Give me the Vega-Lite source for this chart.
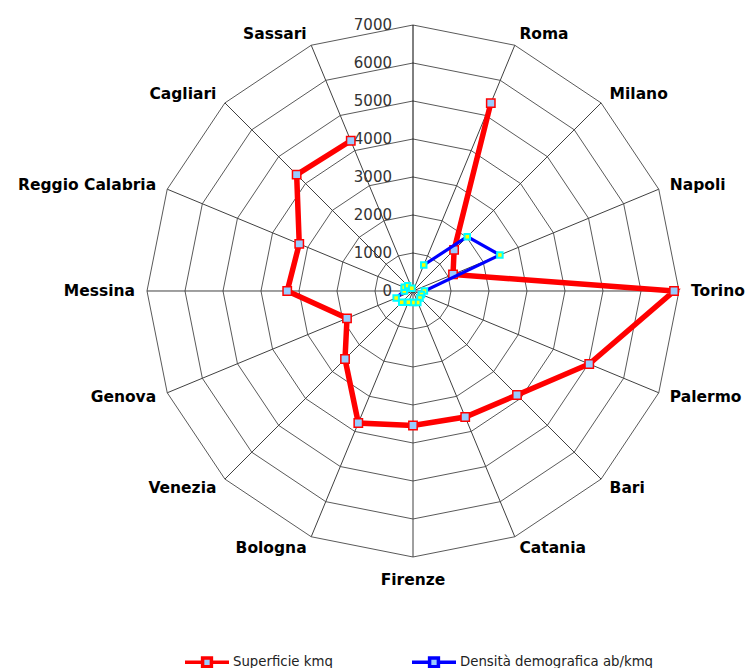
{
  "$schema": "https://vega.github.io/schema/vega-lite/v6.json",
  "width": 750,
  "height": 668,
  "padding": 0,
  "autosize": {"type": "none"},
  "background": "white",
  "config": {"view": {"stroke": null}, "font": "DejaVu Sans"},
  "datasets": {
    "cities": [
      {"city": "", "superficie": null, "densita": null},
      {"city": "Roma", "superficie": 5350, "densita": 740},
      {"city": "Milano", "superficie": 1530, "densita": 2020},
      {"city": "Napoli", "superficie": 1140, "densita": 2475},
      {"city": "Torino", "superficie": 6870, "densita": 300},
      {"city": "Palermo", "superficie": 5020, "densita": 240},
      {"city": "Bari", "superficie": 3870, "densita": 260},
      {"city": "Catania", "superficie": 3590, "densita": 330},
      {"city": "Firenze", "superficie": 3540, "densita": 300},
      {"city": "Bologna", "superficie": 3760, "densita": 320},
      {"city": "Venezia", "superficie": 2530, "densita": 420},
      {"city": "Genova", "superficie": 1880, "densita": 480},
      {"city": "Messina", "superficie": 3310, "densita": 230},
      {"city": "Reggio Calabria", "superficie": 3240, "densita": 250},
      {"city": "Cagliari", "superficie": 4330, "densita": 200},
      {"city": "Sassari", "superficie": 4280, "densita": 80}
    ],
    "grid": [{"key": 1, "levels": [1000, 2000, 3000, 4000, 5000, 6000, 7000]}],
    "ticks": [
      {"level": 0}, {"level": 1000}, {"level": 2000}, {"level": 3000},
      {"level": 4000}, {"level": 5000}, {"level": 6000}, {"level": 7000}
    ]
  },
  "layer": [
    {
      "data": {"name": "cities"},
      "transform": [
        {"window": [{"op": "row_number", "as": "rn"}]},
        {"calculate": "(datum.rn - 1) * PI / 8", "as": "ang"},
        {"calculate": "1", "as": "key"},
        {"lookup": "key", "from": {"data": {"name": "grid"}, "key": "key", "fields": ["levels"]}},
        {"flatten": ["levels"], "as": ["level"]},
        {"calculate": "datum.level * sin(datum.ang)", "as": "gx"},
        {"calculate": "datum.level * cos(datum.ang)", "as": "gy"},
        {"calculate": "datum.level * sin(datum.ang + PI / 8)", "as": "gx2"},
        {"calculate": "datum.level * cos(datum.ang + PI / 8)", "as": "gy2"}
      ],
      "mark": {"type": "rule", "stroke": "#5a5a5a", "strokeWidth": 1},
      "encoding": {
        "x": {"field": "gx", "type": "quantitative", "scale": {"domain": [-10868.4, 8868.4], "nice": false, "zero": false}, "axis": null},
        "y": {"field": "gy", "type": "quantitative", "scale": {"domain": [-9921.1, 7657.9], "nice": false, "zero": false}, "axis": null},
        "x2": {"field": "gx2"},
        "y2": {"field": "gy2"}
      }
    },
    {
      "data": {"name": "cities"},
      "transform": [
        {"window": [{"op": "row_number", "as": "rn"}]},
        {"calculate": "(datum.rn - 1) * PI / 8", "as": "ang"},
        {"calculate": "0", "as": "zero"},
        {"calculate": "7000 * sin(datum.ang)", "as": "sx"},
        {"calculate": "7000 * cos(datum.ang)", "as": "sy"}
      ],
      "mark": {"type": "rule", "strokeWidth": 1},
      "encoding": {
        "x": {"field": "zero", "type": "quantitative", "scale": {"domain": [-10868.4, 8868.4], "nice": false, "zero": false}, "axis": null},
        "y": {"field": "zero", "type": "quantitative", "scale": {"domain": [-9921.1, 7657.9], "nice": false, "zero": false}, "axis": null},
        "x2": {"field": "sx"},
        "y2": {"field": "sy"},
        "stroke": {"condition": {"test": "datum.rn == 1", "value": "#000000"}, "value": "#404040"}
      }
    },
    {
      "data": {"name": "ticks"},
      "transform": [{"calculate": "0", "as": "zero"}],
      "mark": {"type": "text", "align": "right", "baseline": "middle", "dx": -21, "fontSize": 15, "color": "#333333", "font": "DejaVu Sans"},
      "encoding": {
        "x": {"field": "zero", "type": "quantitative", "scale": {"domain": [-10868.4, 8868.4], "nice": false, "zero": false}, "axis": null},
        "y": {"field": "level", "type": "quantitative", "scale": {"domain": [-9921.1, 7657.9], "nice": false, "zero": false}, "axis": null},
        "text": {"field": "level", "type": "quantitative", "format": "d"}
      }
    },
    {
      "data": {"name": "cities"},
      "transform": [
        {"window": [{"op": "row_number", "as": "rn"}]},
        {"calculate": "(datum.rn - 1) * PI / 8", "as": "ang"},
        {"calculate": "7316 * sin(datum.ang)", "as": "lx"},
        {"calculate": "7316 * cos(datum.ang)", "as": "ly"},
        {"filter": "datum.rn > 1 && datum.rn < 9"}
      ],
      "mark": {"type": "text", "align": "left", "baseline": "middle", "fontSize": 15.5, "fontWeight": "bold", "color": "#000000", "font": "DejaVu Sans"},
      "encoding": {
        "x": {"field": "lx", "type": "quantitative", "scale": {"domain": [-10868.4, 8868.4], "nice": false, "zero": false}, "axis": null},
        "y": {"field": "ly", "type": "quantitative", "scale": {"domain": [-9921.1, 7657.9], "nice": false, "zero": false}, "axis": null},
        "text": {"field": "city", "type": "nominal"}
      }
    },
    {
      "data": {"name": "cities"},
      "transform": [
        {"window": [{"op": "row_number", "as": "rn"}]},
        {"calculate": "(datum.rn - 1) * PI / 8", "as": "ang"},
        {"calculate": "7316 * sin(datum.ang)", "as": "lx"},
        {"calculate": "7316 * cos(datum.ang)", "as": "ly"},
        {"filter": "datum.rn == 9"}
      ],
      "mark": {"type": "text", "align": "center", "baseline": "top", "dy": 4, "fontSize": 15.5, "fontWeight": "bold", "color": "#000000", "font": "DejaVu Sans"},
      "encoding": {
        "x": {"field": "lx", "type": "quantitative", "scale": {"domain": [-10868.4, 8868.4], "nice": false, "zero": false}, "axis": null},
        "y": {"field": "ly", "type": "quantitative", "scale": {"domain": [-9921.1, 7657.9], "nice": false, "zero": false}, "axis": null},
        "text": {"field": "city", "type": "nominal"}
      }
    },
    {
      "data": {"name": "cities"},
      "transform": [
        {"window": [{"op": "row_number", "as": "rn"}]},
        {"calculate": "(datum.rn - 1) * PI / 8", "as": "ang"},
        {"calculate": "7316 * sin(datum.ang)", "as": "lx"},
        {"calculate": "7316 * cos(datum.ang)", "as": "ly"},
        {"filter": "datum.rn > 9"}
      ],
      "mark": {"type": "text", "align": "right", "baseline": "middle", "fontSize": 15.5, "fontWeight": "bold", "color": "#000000", "font": "DejaVu Sans"},
      "encoding": {
        "x": {"field": "lx", "type": "quantitative", "scale": {"domain": [-10868.4, 8868.4], "nice": false, "zero": false}, "axis": null},
        "y": {"field": "ly", "type": "quantitative", "scale": {"domain": [-9921.1, 7657.9], "nice": false, "zero": false}, "axis": null},
        "text": {"field": "city", "type": "nominal"}
      }
    },
    {
      "data": {"name": "cities"},
      "transform": [
        {"window": [{"op": "row_number", "as": "rn"}]},
        {"calculate": "(datum.rn - 1) * PI / 8", "as": "ang"},
        {"fold": ["superficie", "densita"], "as": ["series", "value"]},
        {"filter": "isValid(datum.value)"},
        {"calculate": "datum.value * sin(datum.ang)", "as": "px"},
        {"calculate": "datum.value * cos(datum.ang)", "as": "py"},
        {"filter": "datum.series == 'superficie'"}
      ],
      "mark": {"type": "line", "strokeWidth": 5.5, "strokeJoin": "miter"},
      "encoding": {
        "x": {"field": "px", "type": "quantitative", "scale": {"domain": [-10868.4, 8868.4], "nice": false, "zero": false}, "axis": null},
        "y": {"field": "py", "type": "quantitative", "scale": {"domain": [-9921.1, 7657.9], "nice": false, "zero": false}, "axis": null},
        "order": {"field": "rn", "type": "quantitative"},
        "color": {
          "field": "series", "type": "nominal",
          "scale": {"domain": ["superficie", "densita"], "range": ["#FF0000", "#0000FF"]},
          "legend": {
            "orient": "none", "legendX": 183, "legendY": 638, "direction": "horizontal", "title": null,
            "symbolType": "M-1,0H-0.2M0.2,0H1M-0.2,-0.2H0.2V0.2H-0.2Z",
            "symbolSize": 1936, "symbolStrokeWidth": 3.5, "symbolFillColor": "#99CCFF",
            "labelFontSize": 13.3, "labelFont": "DejaVu Sans", "labelColor": "#222222", "labelOffset": 2, "labelLimit": 400,
            "columnPadding": 72, "padding": 0,
            "labelExpr": "datum.value == 'superficie' ? 'Superficie kmq' : 'Densità demografica ab/kmq'"
          }
        }
      }
    },
    {
      "data": {"name": "cities"},
      "transform": [
        {"window": [{"op": "row_number", "as": "rn"}]},
        {"calculate": "(datum.rn - 1) * PI / 8", "as": "ang"},
        {"filter": "isValid(datum.superficie)"},
        {"calculate": "datum.superficie * sin(datum.ang)", "as": "px"},
        {"calculate": "datum.superficie * cos(datum.ang)", "as": "py"}
      ],
      "mark": {"type": "point", "shape": "square", "filled": true, "size": 70, "strokeWidth": 1.5, "fill": "#99CCFF", "stroke": "#FF0000", "opacity": 1},
      "encoding": {
        "x": {"field": "px", "type": "quantitative", "scale": {"domain": [-10868.4, 8868.4], "nice": false, "zero": false}, "axis": null},
        "y": {"field": "py", "type": "quantitative", "scale": {"domain": [-9921.1, 7657.9], "nice": false, "zero": false}, "axis": null}
      }
    },
    {
      "data": {"name": "cities"},
      "transform": [
        {"window": [{"op": "row_number", "as": "rn"}]},
        {"calculate": "(datum.rn - 1) * PI / 8", "as": "ang"},
        {"fold": ["superficie", "densita"], "as": ["series", "value"]},
        {"filter": "isValid(datum.value)"},
        {"calculate": "datum.value * sin(datum.ang)", "as": "px"},
        {"calculate": "datum.value * cos(datum.ang)", "as": "py"},
        {"filter": "datum.series == 'densita'"}
      ],
      "mark": {"type": "line", "strokeWidth": 3.2, "strokeJoin": "miter"},
      "encoding": {
        "x": {"field": "px", "type": "quantitative", "scale": {"domain": [-10868.4, 8868.4], "nice": false, "zero": false}, "axis": null},
        "y": {"field": "py", "type": "quantitative", "scale": {"domain": [-9921.1, 7657.9], "nice": false, "zero": false}, "axis": null},
        "order": {"field": "rn", "type": "quantitative"},
        "color": {"field": "series", "type": "nominal", "scale": {"domain": ["superficie", "densita"], "range": ["#FF0000", "#0000FF"]}}
      }
    },
    {
      "data": {"name": "cities"},
      "transform": [
        {"window": [{"op": "row_number", "as": "rn"}]},
        {"calculate": "(datum.rn - 1) * PI / 8", "as": "ang"},
        {"filter": "isValid(datum.densita)"},
        {"calculate": "datum.densita * sin(datum.ang)", "as": "px"},
        {"calculate": "datum.densita * cos(datum.ang)", "as": "py"}
      ],
      "mark": {"type": "point", "shape": "square", "filled": true, "size": 30, "strokeWidth": 2, "fill": "#FFFF00", "stroke": "#00FFFF", "opacity": 1},
      "encoding": {
        "x": {"field": "px", "type": "quantitative", "scale": {"domain": [-10868.4, 8868.4], "nice": false, "zero": false}, "axis": null},
        "y": {"field": "py", "type": "quantitative", "scale": {"domain": [-9921.1, 7657.9], "nice": false, "zero": false}, "axis": null}
      }
    }
  ]
}
